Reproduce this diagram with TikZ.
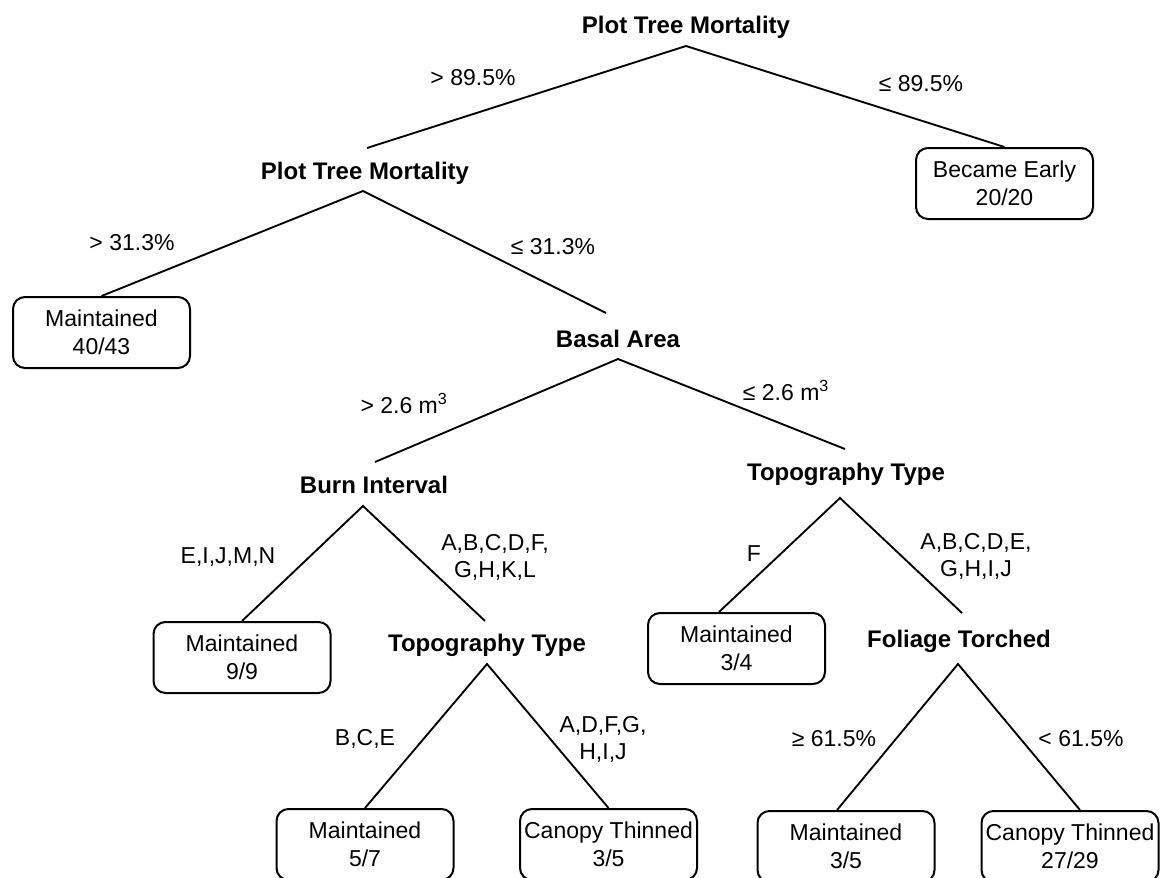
\documentclass[tikz,border=0pt]{standalone}
\usepackage{fontspec}
\setmainfont{Liberation Sans}
\usetikzlibrary{calc}
\begin{document}
\begin{tikzpicture}[x=0.75pt,y=-0.75pt,
  dec/.style={font=\fontsize{18}{21}\selectfont\bfseries, inner sep=0pt, anchor=base},
  lbl/.style={font=\fontsize{17.25}{20.25}\selectfont, inner sep=0pt, anchor=base},
  lbltwo/.style={font=\fontsize{17.25}{20.25}\selectfont, inner sep=0pt, align=center},
  leaf/.style={draw, line width=1.5pt, rounded corners=9pt, minimum width=132.75pt, minimum height=53.25pt, align=center, inner sep=0pt, font=\fontsize{17.25}{21}\selectfont},
  conn/.style={line width=1.4pt}]
\useasboundingbox (0,0) rectangle (1164,878);

% decision nodes
\node[dec] (root) at (686,33) {Plot Tree Mortality};
\node[dec] (ptm) at (365,179) {Plot Tree Mortality};
\node[dec] (basal) at (618,347) {Basal Area};
\node[dec] (burn) at (374,493) {Burn Interval};
\node[dec] (topou) at (846,480) {Topography Type};
\node[dec] (topol) at (487,651) {Topography Type};
\node[dec] (fol) at (959,647) {Foliage Torched};

% apex / entry coordinates
\coordinate (root-o) at (686,46);
\coordinate (ptm-i) at (367,148);
\coordinate (ptm-o) at (363,191);
\coordinate (basal-i) at (606,313);
\coordinate (basal-o) at (618,359);
\coordinate (burn-i) at (375,462);
\coordinate (burn-o) at (363,506);
\coordinate (topou-i) at (845,449);
\coordinate (topou-o) at (840,498);
\coordinate (topol-i) at (485,621);
\coordinate (topol-o) at (487,664);
\coordinate (fol-i) at (962,613);
\coordinate (fol-o) at (958,664);

% leaves
\node[leaf] (be) at (1004.5,183.5) {Became Early\\20/20};
\node[leaf] (m1) at (101.5,332.5) {Maintained\\40/43};
\node[leaf] (m2) at (242,657.5) {Maintained\\9/9};
\node[leaf] (m3) at (736.5,648.5) {Maintained\\3/4};
\node[leaf] (m4) at (365,844.5) {Maintained\\5/7};
\node[leaf] (c1) at (608.5,844.5) {Canopy Thinned\\3/5};
\node[leaf] (m5) at (846,846.5) {Maintained\\3/5};
\node[leaf] (c2) at (1070,846.5) {Canopy Thinned\\27/29};

% connectors
\draw[conn] (ptm-i) -- (root-o) -- (be.north);
\draw[conn] (m1.north) -- (ptm-o) -- (basal-i);
\draw[conn] (burn-i) -- (basal-o) -- (topou-i);
\draw[conn] (m2.north) -- (burn-o) -- (topol-i);
\draw[conn] ($(m3.north)+(-17.5,0)$) -- (topou-o) -- (fol-i);
\draw[conn] (m4.north) -- (topol-o) -- (c1.north);
\draw[conn] ($(m5.north)+(-9,0)$) -- (fol-o) -- ($(c2.north)+(10,0)$);

% edge labels
\node[lbl] (l1) at (473,85) {> 89.5\%};
\node[lbl] (l2) at (921,91) {≤ 89.5\%};
\node[lbl] (l3) at (132,250) {> 31.3\%};
\node[lbl] (l4) at (553,254) {≤ 31.3\%};
\node[lbl] (l5) at (404,413) {> 2.6 m\textsuperscript{3}};
\node[lbl] (l6) at (786,400) {≤ 2.6 m\textsuperscript{3}};
\node[lbl] (l7) at (228,563) {E,I,J,M,N};
\node[lbltwo] (l8) at (495,557) {A,B,C,D,F,\\G,H,K,L};
\node[lbl] (l9) at (754,561) {F};
\node[lbltwo] (l10) at (976,556) {A,B,C,D,E,\\G,H,I,J};
\node[lbl] (l11) at (365,745) {B,C,E};
\node[lbltwo] (l12) at (603,739) {A,D,F,G,\\H,I,J};
\node[lbl] (l13) at (834,746) {≥ 61.5\%};
\node[lbl] (l14) at (1081,746) {< 61.5\%};
\end{tikzpicture}
\end{document}
